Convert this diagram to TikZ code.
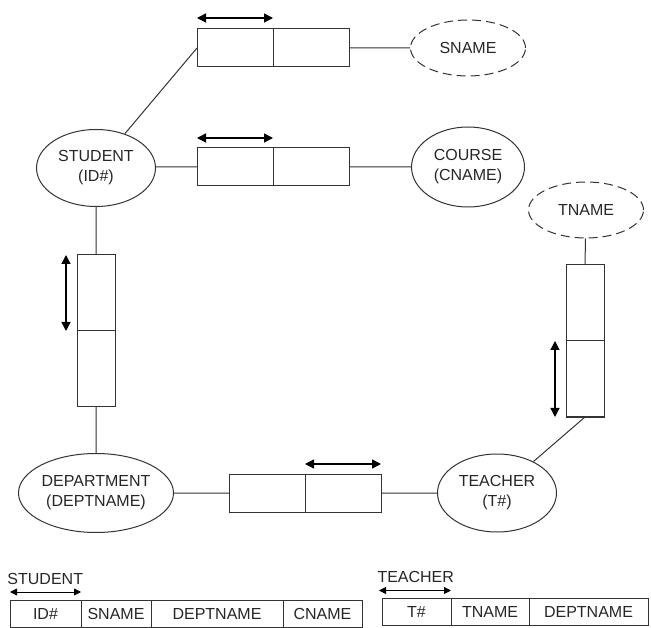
\documentclass[tikz,border=0pt]{standalone}
\usepackage{fontspec}
\setmainfont{Liberation Sans}
\usetikzlibrary{positioning,arrows.meta,shapes.geometric}
\tikzset{entity node/.style={ellipse,draw=black!80,line width=1pt,text=black!85,inner sep=0pt,minimum width=119pt,minimum height=77pt,align=center,font=\fontsize{16}{20}\selectfont},}
\tikzset{attr node/.style={entity node,dash pattern=on 9pt off 5pt,minimum width=115pt,minimum height=56pt},}
\tikzset{hcell/.style={rectangle,draw=black!80,line width=1pt,inner sep=0pt,outer sep=0pt,minimum width=76pt,minimum height=38pt},}
\tikzset{vcell/.style={hcell,minimum width=38pt,minimum height=76pt},}
\tikzset{tcell/.style={rectangle,draw=black!80,line width=1pt,inner sep=0pt,outer sep=0pt,text=black!85,minimum height=27pt,font=\fontsize{16}{19}\selectfont},}
\tikzset{both way/.style={line width=1.3pt,draw=black,{Triangle[width=9pt,length=9pt]}-{Triangle[width=9pt,length=9pt]}},}
\tikzset{key way/.style={line width=0.9pt,draw=black,{Triangle[width=7pt,length=7pt]}-{Triangle[width=7pt,length=7pt]}},}

\begin{document}
\begin{tikzpicture}[x=1pt,y=-1pt,line width=1pt,draw=black!80]
       \useasboundingbox (0,0) rectangle (651,628);

       \node[entity node] (student) at (96,168) {STUDENT\\(ID\#)};
       \node[entity node,minimum width=113pt,minimum height=80pt] (course) at (468,167) {COURSE\\(CNAME)};
       \node[entity node,minimum width=155pt,minimum height=79pt] (dept) at (96,493) {DEPARTMENT\\(DEPTNAME)};
       \node[entity node,minimum height=78pt] (teacher) at (497,493) {TEACHER\\(T\#)};
       \node[attr node] (sname) at (468,48) {SNAME};
       \node[attr node] (tname) at (586,210) {TNAME};

       \node[hcell] (r1a) at (235,48) {};
       \node[hcell] (r1b) [right = 0pt of r1a] {};
       \node[hcell] (r2a) at (235,167) {};
       \node[hcell] (r2b) [right = 0pt of r2a] {};
       \node[hcell] (r3a) at (267,493) {};
       \node[hcell] (r3b) [right = 0pt of r3a] {};
       \node[vcell] (v1a) at (96,293) {};
       \node[vcell] (v1b) [below = 0pt of v1a] {};
       \node[vcell] (v2a) at (585,303) {};
       \node[vcell] (v2b) [below = 0pt of v2a] {};

       \draw
       (student) -- (r1a.west)
       (r1b.east) -- (sname)
       (student.east |- r2a.west) -- (r2a.west)
       (r2b.east) -- (course)
       (student) -- (v1a.north)
       (v1b.south) -- (dept)
       (dept) -- (r3a.west)
       (r3b.east) -- (teacher)
       (teacher) -- (v2b.south)
       (v2a.north) -- (tname);

       \draw[both way] ([yshift=11pt]r1a.north west) -- ([yshift=11pt]r1a.north east);
       \draw[both way] ([yshift=10pt]r2a.north west) -- ([yshift=10pt]r2a.north east);
       \draw[both way] ([yshift=10pt]r3b.north west) -- ([yshift=10pt]r3b.north east);
       \draw[both way] ([xshift=-11pt]v1a.north west) -- ([xshift=-11pt]v1a.south west);
       \draw[both way] ([xshift=-11pt]v2b.north west) -- ([xshift=-11pt]v2b.south west);

       % relation tables
       \node[anchor=base west,inner sep=0pt,text=black!85,font=\fontsize{16}{19}\selectfont] (stulabel) at (7,584) {STUDENT};
       \node[tcell,minimum width=71pt] (sid) at (45.5,613.5) {ID\#};
       \node[tcell,minimum width=70pt] (ssname) [right = 0pt of sid] {SNAME};
       \node[tcell,minimum width=132pt] (sdept) [right = 0pt of ssname] {DEPTNAME};
       \node[tcell,minimum width=79pt] (scname) [right = 0pt of sdept] {CNAME};
       \draw[key way] ([yshift=8pt]sid.north west) -- ([yshift=8pt]sid.north east);

       \node[anchor=base west,inner sep=0pt,text=black!85,font=\fontsize{16}{19}\selectfont] (tealabel) at (377,582) {TEACHER};
       \node[tcell,minimum width=69pt] (tid) at (416.5,612) {T\#};
       \node[tcell,minimum width=78pt] (ttname) [right = 0pt of tid] {TNAME};
       \node[tcell,minimum width=119pt] (tdept) [right = 0pt of ttname] {DEPTNAME};
       \draw[key way] ([xshift=-3pt,yshift=8pt]tid.north west) -- ([yshift=8pt]tid.north east);
    \end{tikzpicture}
\end{document}
